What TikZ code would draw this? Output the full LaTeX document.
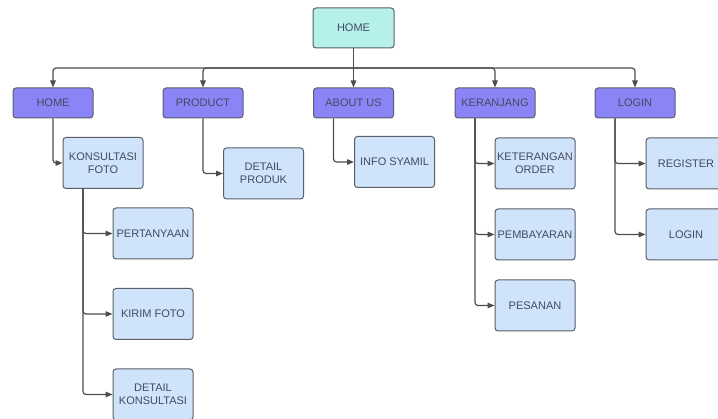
\documentclass[tikz,border=0pt]{standalone}
\usepackage{fontspec}
\setmainfont{Liberation Sans}
\usetikzlibrary{arrows.meta}
\definecolor{lblue}{HTML}{CFE3FB}
\definecolor{purp}{HTML}{8B84F6}
\definecolor{teal}{HTML}{B5F1EA}
\definecolor{bord}{HTML}{5A5E68}
\definecolor{txt}{HTML}{434A5E}
\definecolor{lin}{HTML}{4D4D4D}
\tikzset{
  box/.style={draw=bord, line width=1pt, rounded corners=3pt, minimum width=80pt, minimum height=51pt, align=center, inner sep=0.5pt, text=txt, font=\fontsize{11}{13}\selectfont, fill=lblue},
  menu/.style={box, fill=purp, minimum height=30pt},
  root/.style={box, fill=teal, minimum width=81pt, minimum height=40pt},
  conn/.style={draw=lin, line width=1.2pt, rounded corners=3pt, -{Triangle[length=7pt,width=5.5pt]}},
}
\begin{document}
\begin{tikzpicture}[x=1pt,y=-1pt]
\useasboundingbox (0,0) rectangle (718,419);
\fill[white] (0,0) rectangle (718,419);
\clip (0,0) rectangle (718,419);
\node[root] (top) at (353.5,28) {HOME};
\node[menu] (home2) at (53,103) {HOME};
\node[menu] (prod) at (203,103) {PRODUCT};
\node[menu] (about) at (353.5,103) {ABOUT US};
\node[menu] (keran) at (495,103) {KERANJANG};
\node[menu] (login) at (635,103) {LOGIN};
\node[box] (konsul) at (103,163) {KONSULTASI\\FOTO};
\node[box] (detprod) at (263.5,173.5) {DETAIL\\PRODUK};
\node[box] (info) at (394.5,162) {INFO SYAMIL};
\node[box] (ket) at (535,163.5) {KETERANGAN\\ORDER};
\node[box] (bayar) at (535,234.5) {PEMBAYARAN};
\node[box] (pesan) at (535,305.5) {PESANAN};
\node[box] (reg) at (686,163.5) {REGISTER};
\node[box] (login2) at (686,234.5) {LOGIN};
\node[box] (tanya) at (153,233.5) {PERTANYAAN};
\node[box] (kirim) at (153,314) {KIRIM FOTO};
\node[box] (detkon) at (153,394.5) {DETAIL\\KONSULTASI};
\coordinate (bus) at (353.5,68);
\draw[conn] (top.south) -- (about.north);
\draw[conn] (bus) -| (home2.north);
\draw[conn] (bus) -| (prod.north);
\draw[conn] (bus) -| (keran.north);
\draw[conn] (bus) -| (login.north);
\draw[conn] (home2.south) |- (konsul.west);
\draw[conn] (prod.south) |- (detprod.west);
\draw[conn] ([xshift=-20pt]about.south) |- (info.west);
\draw[conn] ([xshift=-20pt]keran.south) |- (ket.west);
\draw[conn] ([xshift=-20pt]keran.south) |- (bayar.west);
\draw[conn] ([xshift=-20pt]keran.south) |- (pesan.west);
\draw[conn] ([xshift=-20pt]login.south) |- (reg.west);
\draw[conn] ([xshift=-20pt]login.south) |- (login2.west);
\draw[conn] ([xshift=-20pt]konsul.south) |- (tanya.west);
\draw[conn] ([xshift=-20pt]konsul.south) |- (kirim.west);
\draw[conn] ([xshift=-20pt]konsul.south) |- (detkon.west);
\end{tikzpicture}
\end{document}
